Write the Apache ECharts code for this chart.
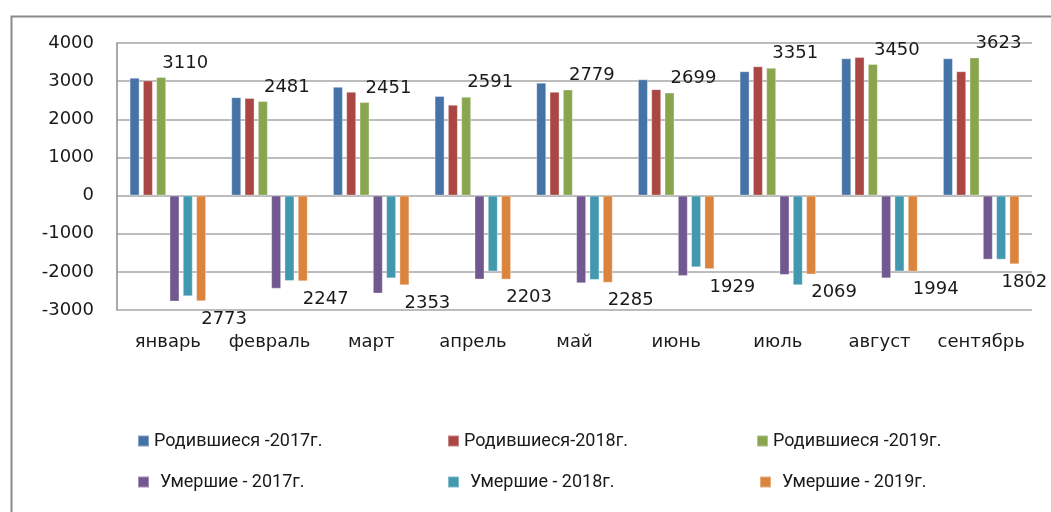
<!DOCTYPE html>
<html>
<head>
<meta charset="utf-8">
<script src="https://cdn.jsdelivr.net/npm/echarts@6/dist/echarts.min.js"></script>
<style>
html,body{margin:0;padding:0;background:#fff;}
#chart{width:1051px;height:512px;}
</style>
</head>
<body>
<div id="chart"></div>
<script>
const categories = ['январь','февраль','март','апрель','май','июнь','июль','август','сентябрь'];
const seriesNames = ['Родившиеся -2017г.','Родившиеся-2018г.','Родившиеся -2019г.','Умершие - 2017г.','Умершие - 2018г.','Умершие - 2019г.'];
const born2017 = [3090, 2580, 2850, 2610, 2960, 3050, 3260, 3600, 3600];
const born2018 = [3020, 2560, 2720, 2380, 2720, 2790, 3390, 3630, 3260];
const born2019 = [3110, 2481, 2451, 2591, 2779, 2699, 3351, 3450, 3623];
const died2017 = [-2780, -2440, -2570, -2200, -2300, -2110, -2080, -2170, -1680];
const died2018 = [-2640, -2240, -2170, -1990, -2210, -1880, -2350, -1990, -1680];
const died2019 = [-2773, -2247, -2353, -2203, -2285, -1929, -2069, -1994, -1802];
const colors = ['#4572A7','#AA4643','#89A54E','#71588F','#4198AF','#DB843D'];

const labelFont = {fontFamily:'DejaVu Sans', fontSize:18, color:'#1a1a1a'};
const values = [born2017, born2018, born2019, died2017, died2018, died2019];
const lastIdx = categories.length - 1;

const series = values.map((v, i) => {
  const s = {
    name: seriesNames[i],
    type: 'bar',
    data: v,
    barWidth: 10,
    barGap: '33%',
    itemStyle: {color: colors[i], borderColor: 'rgba(255,255,255,0.35)', borderWidth: 1},
    label: {show: false}
  };
  if (i === 2) {
    s.label = Object.assign({show: true, position: 'top', offset: [24, 0]}, labelFont);
  }
  if (i === 5) {
    s.label = Object.assign({show: true, position: 'bottom', offset: [23, 4],
      formatter: p => String(Math.abs(p.value))}, labelFont);
    s.data = v.map((val, j) => j === lastIdx ? {value: val, label: {offset: [10, 4]}} : val);
  }
  return s;
});

const legendPos = [[132,427],[442,427],[751,427],[132,468],[442,468],[754,468]];
const legends = seriesNames.map((n, i) => ({
  data: [n],
  left: legendPos[i][0],
  top: legendPos[i][1],
  icon: 'rect',
  itemWidth: 11,
  itemHeight: 11,
  textStyle: {fontFamily: 'Roboto', fontSize: 18, color: '#1a1a1a', padding: i >= 3 ? [0,0,0,6] : 0}
}));

const chart = echarts.init(document.getElementById('chart'), null, {renderer: 'canvas'});
chart.setOption({
  animation: false,
  color: colors,
  backgroundColor: '#fff',
  grid: {left: 117, right: 19, top: 43, bottom: 202, containLabel: false},
  legend: legends,
  xAxis: {
    type: 'category',
    data: categories,
    axisLine: {show: false, onZero: false},
    axisTick: {show: false},
    splitLine: {show: false},
    axisLabel: Object.assign({margin: 23, interval: 0}, labelFont)
  },
  yAxis: {
    type: 'value',
    min: -3000,
    max: 4000,
    interval: 1000,
    axisLine: {show: true, lineStyle: {color: '#8c8c8c', width: 1.5}},
    axisTick: {show: false},
    splitLine: {show: true, lineStyle: {color: '#a6a6a6', width: 1.5}},
    axisLabel: Object.assign({margin: 23, formatter: v => String(v)}, labelFont)
  },
  graphic: [{
    type: 'rect',
    left: 9, top: 14,
    shape: {x: 0, y: 0, width: 1100, height: 600},
    style: {fill: 'none', stroke: '#8a8a8a', lineWidth: 2},
    silent: true
  }],
  series: series
});
</script>
</body>
</html>
